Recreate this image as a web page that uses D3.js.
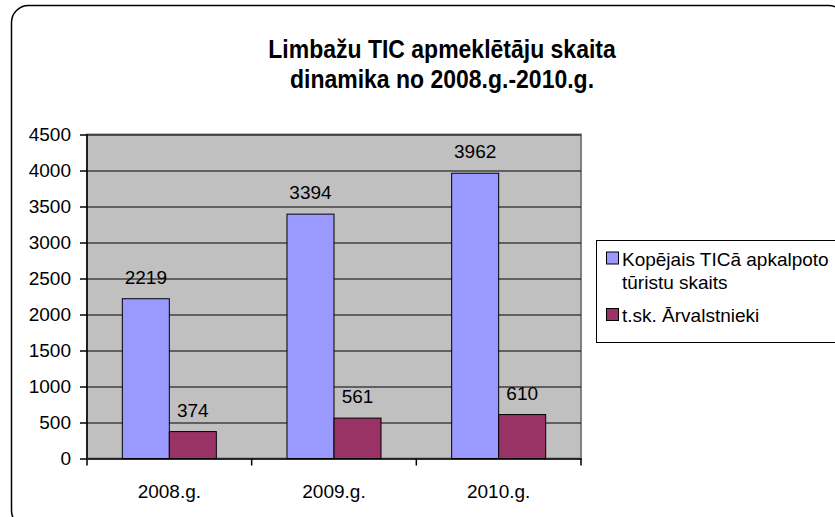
<!DOCTYPE html>
<html>
<head>
<meta charset="utf-8">
<script src="https://cdn.jsdelivr.net/npm/d3@7"></script>
<style>
  body { margin: 0; background: #fff; }
  text { font-family: "Liberation Sans", Arial, sans-serif; }
</style>
</head>
<body>
<div id="chart"></div>
<script>
// data
var years = ['2008.g.', '2009.g.', '2010.g.'];
var seriesNames = ['Kopējais TICā apkalpoto tūristu skaits', 't.sk. Ārvalstnieki'];
var totalVisitors = [2219, 3394, 3962];
var foreignVisitors = [374, 561, 610];
var yTicks = [0, 500, 1000, 1500, 2000, 2500, 3000, 3500, 4000, 4500];
var colors = ['#9999ff', '#993366'];

var svgWidth = 835;
var svgHeight = 517;

// plot area
var margins = { top: 134.5, right: 254, bottom: 58.5, left: 87 };
var chartWidth = svgWidth - margins.left - margins.right;
var chartHeight = svgHeight - margins.top - margins.bottom;

var svg = d3.select('#chart')
    .append('svg')
    .attr('width', svgWidth)
    .attr('height', svgHeight);

// outer rounded frame (runs off the right/bottom edge)
svg.append('rect')
    .attr('x', 11.5).attr('y', 5.5)
    .attr('width', 834).attr('height', 522)
    .attr('rx', 17).attr('ry', 17)
    .attr('fill', '#fff')
    .attr('stroke', '#000')
    .attr('stroke-width', 1.5);

// title
var title = svg.append('text')
    .attr('text-anchor', 'middle')
    .attr('font-weight', 'bold')
    .attr('font-size', '23px')
    .attr('transform', 'translate(442,0) scale(1,1.12)');
title.append('tspan').attr('x', 0).attr('y', 58 / 1.12).text('Limbažu TIC apmeklētāju skaita');
title.append('tspan').attr('x', 0).attr('y', 88 / 1.12).text('dinamika no 2008.g.-2010.g.');

var chartGroup = svg.append('g')
    .attr('transform', `translate(${margins.left}, ${margins.top})`);

// scales
var x0 = d3.scaleBand()
    .domain(years)
    .range([0, chartWidth])
    .paddingInner(0.429)
    .paddingOuter(0.2145);

var x1 = d3.scaleBand()
    .domain([0, 1])
    .range([0, x0.bandwidth()]);

var yScale = d3.scaleLinear()
    .domain([0, 4500])
    .range([chartHeight, 0]);

// plot background
chartGroup.append('rect')
    .attr('width', chartWidth)
    .attr('height', chartHeight)
    .attr('fill', '#c0c0c0')
    .attr('stroke', '#808080')
    .attr('stroke-width', 2);

// gridlines
chartGroup.selectAll('.grid')
    .data(yTicks.slice(1))
    .enter()
    .append('line')
    .attr('x1', 0).attr('x2', chartWidth)
    .attr('y1', d => Math.round(yScale(d)) + 0.5)
    .attr('y2', d => Math.round(yScale(d)) + 0.5)
    .attr('stroke', '#000')
    .attr('stroke-width', 1);

// bars
var rows = years.map((yr, i) => ({ year: yr, values: [totalVisitors[i], foreignVisitors[i]] }));

var groups = chartGroup.selectAll('.grp')
    .data(rows)
    .enter()
    .append('g')
    .attr('transform', d => `translate(${x0(d.year)},0)`);

groups.selectAll('rect')
    .data(d => d.values.map((v, k) => ({ v: v, k: k })))
    .enter()
    .append('rect')
    .attr('x', d => x1(d.k))
    .attr('y', d => yScale(d.v))
    .attr('width', x1.bandwidth())
    .attr('height', d => chartHeight - yScale(d.v))
    .attr('fill', d => colors[d.k])
    .attr('stroke', '#000')
    .attr('stroke-width', 1);

groups.selectAll('.lbl')
    .data(d => d.values.map((v, k) => ({ v: v, k: k })))
    .enter()
    .append('text')
    .attr('x', d => x1(d.k) + x1.bandwidth() / 2)
    .attr('y', d => yScale(d.v) - 15)
    .attr('text-anchor', 'middle')
    .attr('font-size', '19px')
    .attr('fill', '#000')
    .text(d => d.v);

// y axis
var leftAxis = d3.axisLeft(yScale)
    .tickValues(yTicks)
    .tickSize(7)
    .tickPadding(9)
    .tickFormat(d3.format('d'));

var yAxisG = chartGroup.append('g').call(leftAxis);
yAxisG.select('.domain').attr('stroke', '#000').attr('stroke-width', 1.5).attr('d', `M0,0V${chartHeight}`);
yAxisG.selectAll('.tick line').attr('stroke', '#000').attr('stroke-width', 1.5);
yAxisG.selectAll('.tick text')
    .attr('font-size', '19px')
    .attr('font-family', '"Liberation Sans", Arial, sans-serif')
    .attr('fill', '#000');

// x axis: labels centred, ticks on category boundaries
var bottomAxis = d3.axisBottom(x0).tickSize(0).tickPadding(26);
var xAxisG = chartGroup.append('g')
    .attr('transform', `translate(0, ${chartHeight})`)
    .call(bottomAxis);
xAxisG.select('.domain').attr('stroke', '#000').attr('stroke-width', 1.5);
xAxisG.selectAll('.tick text')
    .attr('font-size', '19px')
    .attr('font-family', '"Liberation Sans", Arial, sans-serif')
    .attr('fill', '#000');

var bounds = years.map(yr => x0(yr) - x0.step() * x0.paddingInner() / 2);
bounds.push(chartWidth);
bounds[0] = 0;
xAxisG.selectAll('.bound')
    .data(bounds)
    .enter()
    .append('line')
    .attr('x1', d => d).attr('x2', d => d)
    .attr('y1', 0).attr('y2', 7)
    .attr('stroke', '#000')
    .attr('stroke-width', 1.5);

// legend
var legend = svg.append('g');
legend.append('rect')
    .attr('x', 596.5).attr('y', 240.5)
    .attr('width', 260).attr('height', 102)
    .attr('fill', '#fff')
    .attr('stroke', '#000')
    .attr('stroke-width', 1);

var legendRows = [
    { k: 0, boxY: 252, lines: ['Kopējais TICā apkalpoto', 'tūristu skaits'], y: 266 },
    { k: 1, boxY: 308.5, lines: ['t.sk. Ārvalstnieki'], y: 322 }
];
legendRows.forEach(function(r) {
    legend.append('rect')
        .attr('x', 606.5).attr('y', r.boxY)
        .attr('width', 12).attr('height', 12)
        .attr('fill', colors[r.k])
        .attr('stroke', '#000')
        .attr('stroke-width', 1);
    var t = legend.append('text')
        .attr('font-size', '19px')
        .attr('fill', '#000');
    r.lines.forEach(function(line, i) {
        t.append('tspan').attr('x', 622).attr('y', r.y + i * 23).text(line);
    });
});
</script>
</body>
</html>
